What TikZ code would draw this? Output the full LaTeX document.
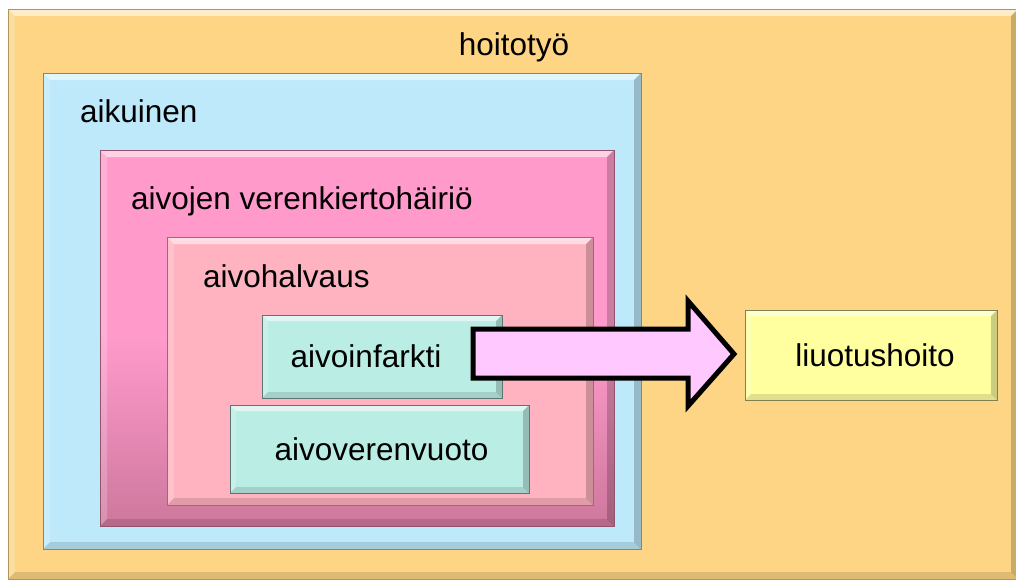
\documentclass[tikz,border=0pt]{standalone}
\usepackage{fontspec}
\setmainfont{Liberation Sans}
\begin{document}
\begin{tikzpicture}[x=1pt,y=-1pt,
  bev/.style={path picture={
    \fill[white,opacity=0.55] (path picture bounding box.north west) -- (path picture bounding box.north east)
      -- ([xshift=-#1,yshift=-#1]path picture bounding box.north east) -- ([xshift=#1,yshift=-#1]path picture bounding box.north west) -- cycle;
    \fill[white,opacity=0.2] (path picture bounding box.north west) -- ([xshift=#1,yshift=-#1]path picture bounding box.north west)
      -- ([xshift=#1,yshift=#1]path picture bounding box.south west) -- (path picture bounding box.south west) -- cycle;
    \fill[black,opacity=0.12] (path picture bounding box.south west) -- (path picture bounding box.south east)
      -- ([xshift=-#1,yshift=#1]path picture bounding box.south east) -- ([xshift=#1,yshift=#1]path picture bounding box.south west) -- cycle;
    \fill[black,opacity=0.2] (path picture bounding box.north east) -- ([xshift=-#1,yshift=-#1]path picture bounding box.north east)
      -- ([xshift=-#1,yshift=#1]path picture bounding box.south east) -- (path picture bounding box.south east) -- cycle;
  }},
  box/.style={rectangle, inner sep=0pt, outer sep=0pt, anchor=north west, line width=0.6pt, bev=#1},
  box/.default=7pt,
  lbl/.style={inner sep=0pt, font=\fontsize{31.5}{36}\selectfont, text=black}
]
\useasboundingbox (0,0) rectangle (1016,579);
\fill[white] (0,0) rectangle (1016,579);
\definecolor{orangeF}{HTML}{FDD584}
\definecolor{blueF}{HTML}{BDE9FB}
\definecolor{pinkT}{HTML}{FF9ACB}
\definecolor{pinkB}{HTML}{CE789D}
\definecolor{pinkL}{HTML}{FFB3C1}
\definecolor{tealF}{HTML}{BAEDE4}
\definecolor{yellowF}{HTML}{FFFFA0}
\definecolor{arrowF}{HTML}{FFC8FF}

\node[box, draw=orangeF!70!black, fill=orangeF, minimum width=1010pt, minimum height=570pt] (hoito) at (8,9) {};
\node[box, draw=blueF!60!black, fill=blueF, minimum width=598pt, minimum height=476pt] (aik) at (43,73) {};
\node[box, draw=pinkB!70!black, top color=pinkT, bottom color=pinkB, middle color=pinkT, minimum width=514pt, minimum height=376pt] (avh) at (100,150) {};
\node[box, draw=pinkL!60!black, fill=pinkL, minimum width=426pt, minimum height=268pt] (halv) at (167,237) {};
\node[box=6pt, draw=tealF!50!black, fill=tealF, minimum width=240pt, minimum height=83pt] (inf) at (262,315) {};
\node[box=6pt, draw=tealF!50!black, fill=tealF, minimum width=299pt, minimum height=88pt] (vuoto) at (230,405) {};
\node[box=6pt, draw=yellowF!50!black, fill=yellowF, minimum width=252pt, minimum height=90pt] (liuo) at (745,310) {};

\node[lbl] (t1) at (514,47) {hoitotyö};
\node[lbl, anchor=west] (t2) at (80,111) {aikuinen};
\node[lbl, anchor=west] (t3) at (131,201) {aivojen verenkiertohäiriö};
\node[lbl, anchor=west] (t4) at (203,276) {aivohalvaus};
\node[lbl] (t5) at (inf.center) [xshift=-16pt] {aivoinfarkti};
\node[lbl] (t6) at (vuoto.center) [xshift=2pt] {aivoverenvuoto};
\node[lbl] (t7) at (liuo.center) [xshift=4pt] {liuotushoito};

\draw[line width=5pt, fill=arrowF, line join=miter, miter limit=10]
  (473,329) -- (688,329) -- (688,301) -- (734,354) -- (688,406) -- (688,378) -- (473,378) -- cycle;
\end{tikzpicture}
\end{document}
